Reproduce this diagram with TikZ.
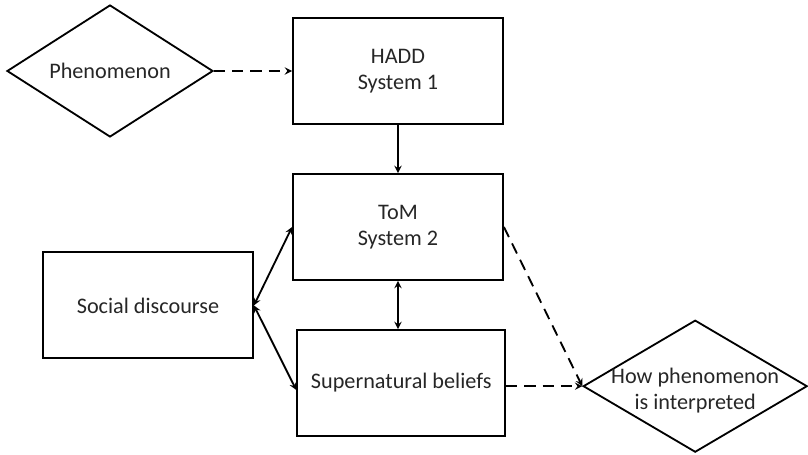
\documentclass[tikz,border=0pt]{standalone}
\usepackage{fontspec}
\setmainfont{Carlito}
\usepackage{tikz}
\usetikzlibrary{arrows,shapes.geometric}

\begin{document}
\begin{tikzpicture}[block/.style={rectangle,draw,line width=1.3pt,minimum width=5.25cm,minimum height=2.65cm,align=center},
	decision/.style={diamond,draw,line width=1.3pt,inner sep=0pt,minimum height=3.3cm},
	font=\fontsize{15.8}{18.5}\selectfont, text=black!85, >=stealth]
			
			\useasboundingbox (0,0) rectangle (20.2,11.375);
			
			% Boxes and diamonds
			\node[decision, minimum width=5.15cm, label={center:Phenomenon}] (phen) at (2.75,9.6) {};
			\node[block] (hadd) at (9.95,9.6) {HADD\\System 1};
			\node[block] (tom) at (9.95,5.7) {ToM\\System 2};
			\node[block] (soc) at (3.7,3.74) {Social discourse};
			\node[block, minimum width=5.2cm] (sup) at (10.03,1.8) {Supernatural beliefs};
			\node[decision, minimum width=5.6cm, label={[align=center,yshift=-3pt]center:How phenomenon\\is interpreted}] (how) at (17.38,1.72) {};
			
			% Solid arrows
			\draw[line width=1.3pt, ->] (hadd) -- (tom);
			\draw[line width=1.3pt, <->] (tom.south) -- (tom.south |- sup.north);
			\draw[line width=1.3pt, <->] (soc.east) -- (tom.west);
			\draw[line width=1.3pt, <->] (soc.east) -- ([yshift=-5pt]sup.west);
			
			% Dashed arrows
			\draw[line width=1.3pt, dash pattern=on 8pt off 5pt, ->] (phen.east) -- (hadd.west);
			\draw[line width=1.3pt, dash pattern=on 8pt off 5pt, ->] (tom.east) -- (how.west);
			\draw[line width=1.3pt, dash pattern=on 8pt off 5pt, ->] (sup.east |- how.west) -- (how.west);
			
		\end{tikzpicture}
\end{document}
